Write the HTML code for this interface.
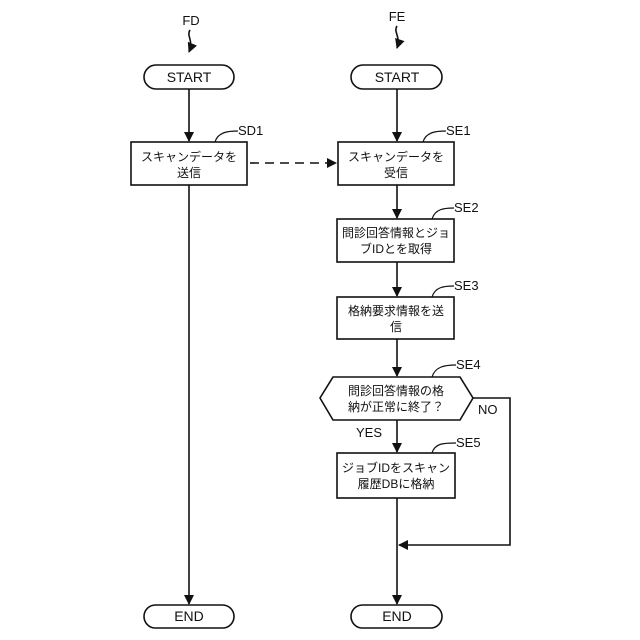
<!DOCTYPE html>
<html><head><meta charset="utf-8"><style>body{margin:0;background:#fff}svg{display:block}text{font-family:"Liberation Sans","Noto Sans CJK JP",sans-serif;fill:#111}</style></head><body>
<svg width="640" height="640" viewBox="0 0 640 640" xmlns="http://www.w3.org/2000/svg">
<defs><marker id="a" markerWidth="10" markerHeight="10" refX="9" refY="5" orient="auto" markerUnits="userSpaceOnUse"><path d="M0,0 L10,5 L0,10 z" fill="#111"/></marker></defs>
<g stroke="#111" stroke-width="1.6" fill="none">
<path d="M190,30 C186,36 194,40 189,52" marker-end="url(#a)"/>
<path d="M397,26 C393,32 401,36 397,48" marker-end="url(#a)"/>
<rect x="144" y="65" width="90" height="24" rx="12" fill="#fff"/>
<rect x="351" y="65" width="91" height="24" rx="12" fill="#fff"/>
<line x1="189" y1="89" x2="189" y2="141" marker-end="url(#a)"/>
<line x1="397" y1="89" x2="397" y2="141" marker-end="url(#a)"/>
<rect x="131" y="142" width="116" height="43"/>
<rect x="338" y="142" width="116" height="43"/>
<line x1="250" y1="163" x2="336" y2="163" stroke-dasharray="9,6" marker-end="url(#a)"/>
<line x1="189" y1="185" x2="189" y2="604" marker-end="url(#a)"/>
<line x1="397" y1="185" x2="397" y2="218" marker-end="url(#a)"/>
<rect x="337" y="219" width="117" height="43"/>
<line x1="397" y1="262" x2="397" y2="296" marker-end="url(#a)"/>
<rect x="337" y="297" width="117" height="42"/>
<line x1="397" y1="339" x2="397" y2="376" marker-end="url(#a)"/>
<path d="M333,377 L460,377 L473,398 L460,420 L333,420 L320,398 Z"/>
<path d="M473,398 L510,398 L510,545 L399,545" marker-end="url(#a)"/>
<line x1="397" y1="420" x2="397" y2="452" marker-end="url(#a)"/>
<rect x="337" y="453" width="118" height="45"/>
<line x1="397" y1="498" x2="397" y2="604" marker-end="url(#a)"/>
<rect x="144" y="605" width="90" height="23" rx="11.5" fill="#fff"/>
<rect x="351" y="605" width="91" height="23" rx="11.5" fill="#fff"/>
<g stroke-width="1.2">
<path d="M215,142 C218,132 228,131 238,131"/>
<path d="M423,142 C426,132 436,131 446,131"/>
<path d="M432,219 C435,209 444,208 454,208"/>
<path d="M432,297 C435,287 444,286 454,286"/>
<path d="M432,377 C435,367 444,365 456,365"/>
<path d="M432,453 C435,443 444,443 456,443"/>
</g>
</g>
<g font-size="13">
<text x="191" y="25" text-anchor="middle">FD</text>
<text x="397" y="21" text-anchor="middle">FE</text>
<text x="189" y="82" text-anchor="middle" font-size="14">START</text>
<text x="397" y="82" text-anchor="middle" font-size="14">START</text>
<text x="189" y="621" text-anchor="middle" font-size="14">END</text>
<text x="397" y="621" text-anchor="middle" font-size="14">END</text>
<text x="238" y="135">SD1</text>
<text x="446" y="135">SE1</text>
<text x="454" y="212">SE2</text>
<text x="454" y="290">SE3</text>
<text x="456" y="369">SE4</text>
<text x="456" y="447">SE5</text>
<text x="478" y="414">NO</text>
<text x="356" y="437">YES</text>
</g>
<g font-size="12" text-anchor="middle">
<text x="189" y="161">スキャンデータを</text><text x="189" y="177">送信</text>
<text x="396" y="161">スキャンデータを</text><text x="396" y="177">受信</text>
<text x="396" y="237">問診回答情報とジョ</text><text x="396" y="253">ブIDとを取得</text>
<text x="396" y="315">格納要求情報を送</text><text x="396" y="331">信</text>
<text x="396" y="395">問診回答情報の格</text><text x="396" y="411">納が正常に終了？</text>
<text x="396" y="472">ジョブIDをスキャン</text><text x="396" y="488">履歴DBに格納</text>
</g>
</svg>
</body></html>
